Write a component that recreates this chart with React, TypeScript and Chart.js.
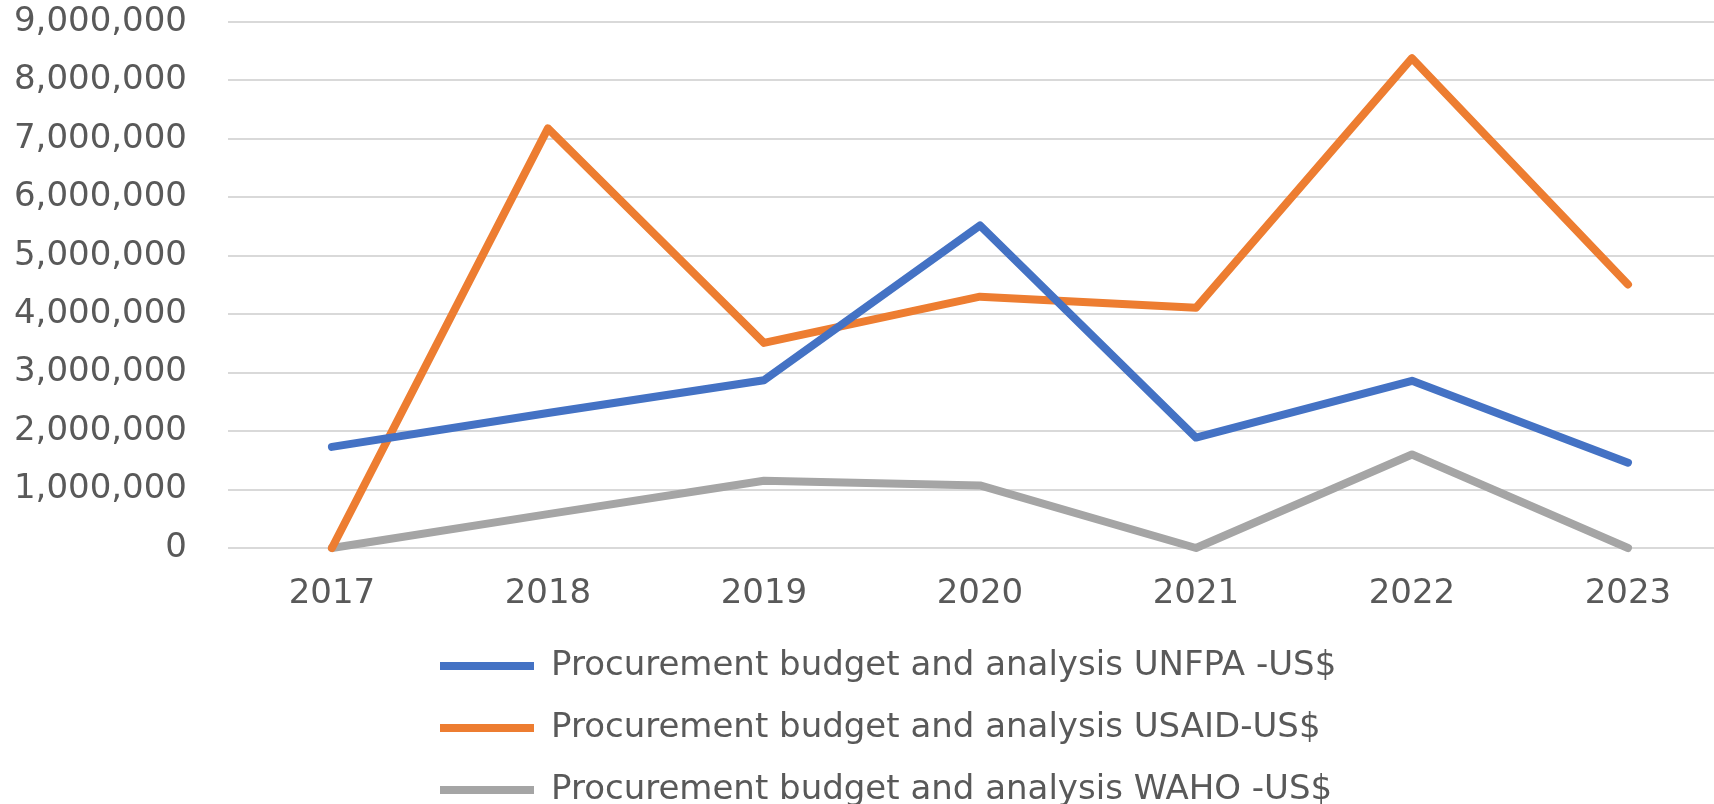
import React, { useEffect, useRef } from "react";
import { Chart, registerables } from "chart.js";

Chart.register(...registerables);

const years = [2017, 2018, 2019, 2020, 2021, 2022, 2023];
const unfpa = [1730000, 2310000, 2870000, 5520000, 1890000, 2860000, 1460000];
const usaid = [0, 7180000, 3510000, 4300000, 4110000, 8380000, 4510000];
const waho = [0, 580000, 1150000, 1070000, 0, 1600000, 0];
const seriesNames = [
  "Procurement budget and analysis UNFPA -US$",
  "Procurement budget and analysis USAID-US$",
  "Procurement budget and analysis WAHO -US$",
];
const yTicks = [0, 1000000, 2000000, 3000000, 4000000, 5000000, 6000000, 7000000, 8000000, 9000000];

const FONT = "'DejaVu Sans', Verdana, sans-serif";

export default function App() {
  const ref = useRef<HTMLCanvasElement | null>(null);
  useEffect(() => {
    if (!ref.current) return;
    const mk = (label: string, vals: number[], color: string) => ({
      label,
      data: years.map((y, i) => ({ x: y, y: vals[i] })),
      borderColor: color,
      backgroundColor: color,
      borderWidth: 8,
      pointRadius: 0,
      tension: 0,
      borderCapStyle: "round" as const,
      borderJoinStyle: "round" as const,
      clip: false as const,
    });
    const legendShift = {
      id: "legendShift",
      afterLayout(chart: any) {
        const lg = chart.legend;
        if (lg) {
          lg.left = 440 - 28;
        }
      },
    };
    const chart = new Chart(ref.current, {
      type: "line",
      data: {
        datasets: [
          mk(seriesNames[0], unfpa, "#4472C4"),
          mk(seriesNames[1], usaid, "#ED7D31"),
          mk(seriesNames[2], waho, "#A5A5A5"),
        ],
      },
      plugins: [legendShift],
      options: {
        responsive: false,
        animation: false,
        devicePixelRatio: 1,
        layout: { padding: { top: 22, left: 0, right: 0, bottom: 0 } },
        plugins: {
          tooltip: { enabled: false },
          legend: {
            position: "bottom",
            align: "start",
            fullSize: false,
            labels: {
              usePointStyle: true,
              pointStyle: "line",
              pointStyleWidth: 94,
              boxWidth: 94,
              padding: 28,
              color: "#595959",
              font: { family: FONT, size: 34 },
            },
          },
        },
        scales: {
          x: {
            type: "linear",
            min: 2016.519,
            max: 2023.5,
            grid: { display: false },
            border: { display: false },
            afterFit: (s: any) => {
              s.height = 73;
              s.paddingLeft = 0;
              s.paddingRight = 0;
            },
            ticks: {
              stepSize: 1,
              includeBounds: false,
              autoSkip: false,
              maxRotation: 0,
              padding: 18,
              color: "#595959",
              font: { family: FONT, size: 34 },
              callback: (v: any) => String(v),
            },
          },
          y: {
            min: 0,
            max: 9000000,
            grid: { color: "#D9D9D9", lineWidth: 2, drawTicks: false },
            border: { display: false },
            afterFit: (s: any) => {
              s.width = 228;
              s.paddingTop = 0;
              s.paddingBottom = 0;
            },
            afterBuildTicks: (s: any) => {
              s.ticks = yTicks.map((v) => ({ value: v }));
            },
            ticks: {
              padding: 41,
              color: "#595959",
              font: { family: FONT, size: 34 },
              callback: (v: any) => (v === 0 ? "0" : Number(v).toLocaleString("en-US")),
            },
          },
        },
      },
    });
    return () => chart.destroy();
  }, []);
  return (
    <div
      style={{
        position: "fixed",
        left: 0,
        top: 0,
        width: 1714,
        height: 804,
        overflow: "hidden",
        background: "#fff",
      }}
    >
      <canvas ref={ref} width={1736} height={817} style={{ display: "block" }} />
    </div>
  );
}
